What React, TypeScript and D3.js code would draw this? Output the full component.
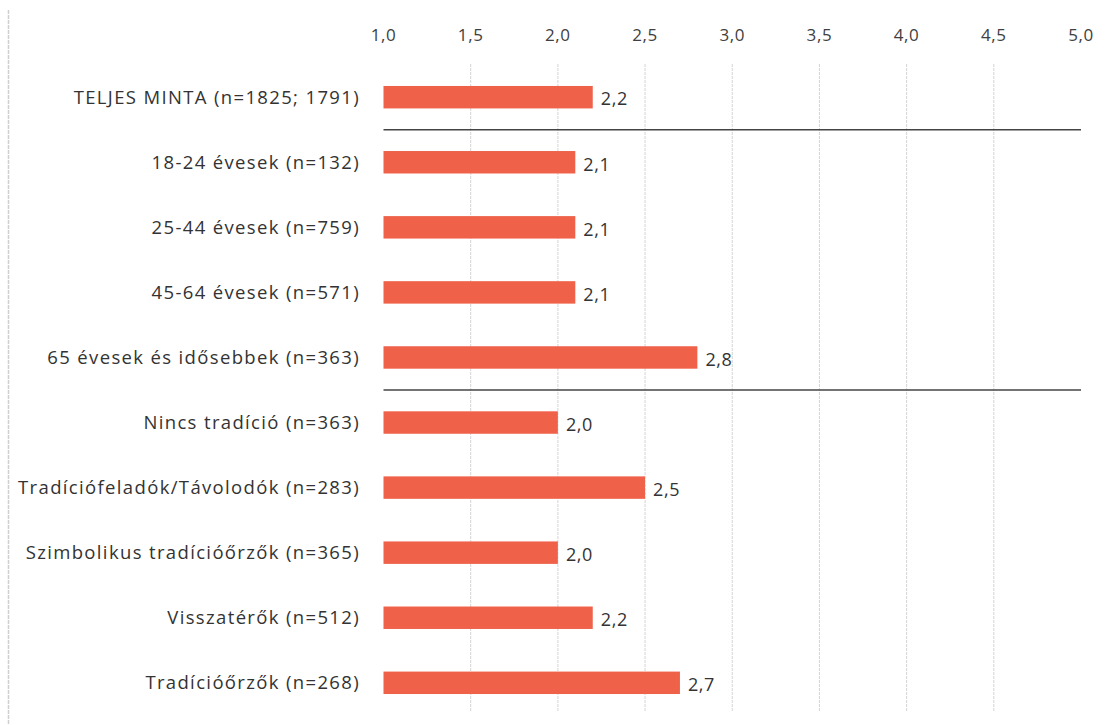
import React from "react";
import * as d3 from "d3";

const categories = [
  "TELJES MINTA (n=1825; 1791)",
  "18-24 évesek (n=132)",
  "25-44 évesek (n=759)",
  "45-64 évesek (n=571)",
  "65 évesek és idősebbek (n=363)",
  "Nincs tradíció (n=363)",
  "Tradíciófeladók/Távolodók (n=283)",
  "Szimbolikus tradícióőrzők (n=365)",
  "Visszatérők (n=512)",
  "Tradícióőrzők (n=268)",
];
const values = [2.2, 2.1, 2.1, 2.1, 2.8, 2.0, 2.5, 2.0, 2.2, 2.7];
const ticks = [1.0, 1.5, 2.0, 2.5, 3.0, 3.5, 4.0, 4.5, 5.0];
// separators drawn after these category indices
const separatorsAfter = [0, 4];

const W = 1105;
const H = 725;
const fmt = (v: number) => d3.format(".1f")(v).replace(".", ",");

export default function App() {
  const x = d3.scaleLinear().domain([1, 5]).range([383.5, 1081]);
  const y = d3
    .scaleBand<string>()
    .domain(categories)
    .range([64.5, 715.5])
    .paddingInner(0.655)
    .paddingOuter(0.33);
  const bw = y.bandwidth();
  const step = y.step();
  const font = "'Open Sans', 'Noto Sans', sans-serif";

  return (
    <svg
      width={W}
      height={H}
      style={{ position: "absolute", left: 0, top: 0, background: "#fff" }}
    >
      <line x1={8.5} x2={8.5} y1={10} y2={H} stroke="#cfcfcf" strokeWidth={1.5} strokeDasharray="4,1" />
      {ticks.map((t) =>
        t > 1 && t < 5 ? (
          <line
            key={"g" + t}
            x1={x(t)}
            x2={x(t)}
            y1={64}
            y2={712}
            stroke="#d4d4d4"
            strokeWidth={1}
            strokeDasharray="3,1"
          />
        ) : null
      )}
      {ticks.map((t) => (
        <text
          key={"t" + t}
          x={x(t)}
          y={41}
          textAnchor="middle"
          fontFamily={font}
          fontSize={17}
          letterSpacing={0.6}
          fill="#404040"
        >
          {fmt(t)}
        </text>
      ))}
      {categories.map((c, i) => (
        <g key={c}>
          <rect
            x={x(1)}
            y={y(c)!}
            width={x(values[i]) - x(1)}
            height={bw}
            fill="#EF6149"
          />
          <text
            x={360}
            y={y(c)! + bw / 2}
            dy="0.35em"
            textAnchor="end"
            fontFamily={font}
            fontSize={18.5}
            letterSpacing={1.35}
            fill="#333"
          >
            {c}
          </text>
          <text
            x={x(values[i]) + 8}
            y={y(c)! + bw / 2 + 2}
            dy="0.35em"
            fontFamily={font}
            fontSize={18}
            letterSpacing={0.6}
            fill="#333"
          >
            {fmt(values[i])}
          </text>
        </g>
      ))}
      {separatorsAfter.map((i) => {
        const yy = y(categories[i])! + bw + (step - bw) / 2;
        return (
          <line
            key={"s" + i}
            x1={x(1)}
            x2={x(5)}
            y1={yy}
            y2={yy}
            stroke="#444"
            strokeWidth={1.5}
          />
        );
      })}
    </svg>
  );
}
